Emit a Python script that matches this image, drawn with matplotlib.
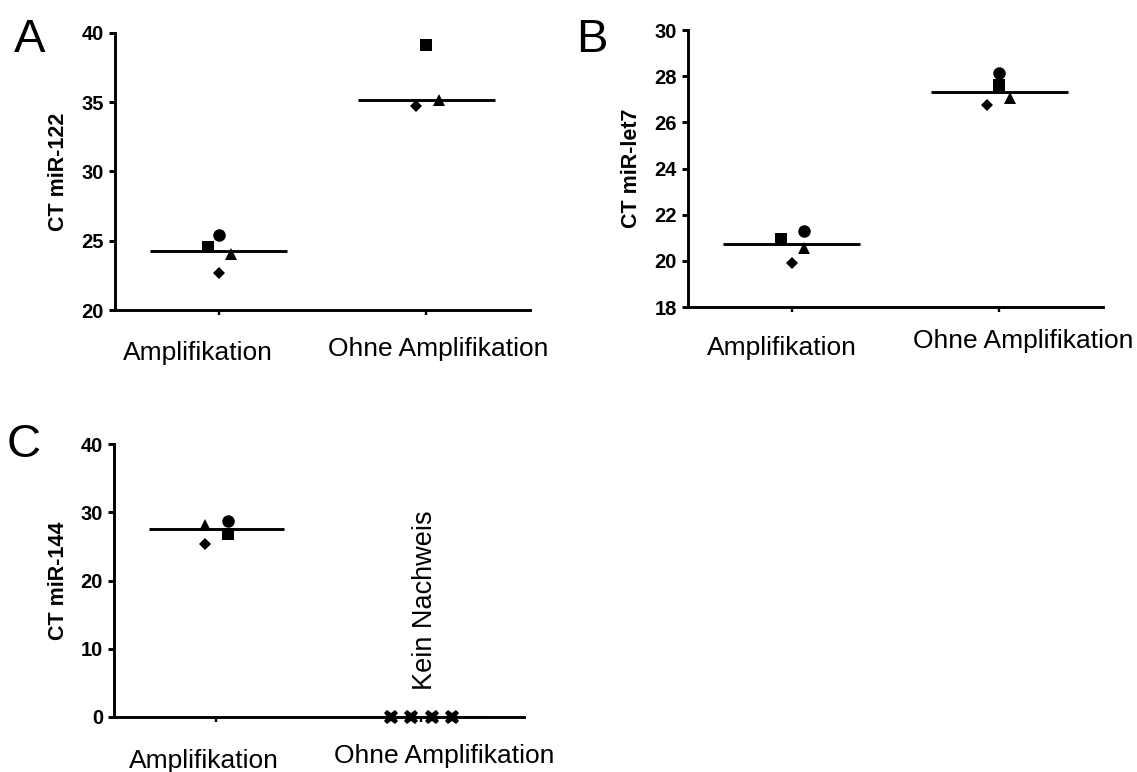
import numpy as np
import matplotlib
matplotlib.use("Agg")
import matplotlib.pyplot as plt

plt.rcParams['font.family'] = ['Liberation Sans', 'DejaVu Sans']

# ── data ─────────────────────────────────────────────────────────────────────
groups = ["Amplifikation", "Ohne Amplifikation"]
samples = ["circle", "square", "triangle", "diamond"]

# CT values per sample (circle, square, triangle, diamond); nan = not measured
mir122_amp = [25.4, 24.55, 24.04, 22.65]
mir122_ohne = [np.nan, 39.13, 35.16, 34.73]

let7_amp = [21.29, 20.93, 20.54, 19.92]
let7_ohne = [28.15, 27.62, 27.04, 26.75]

mir144_amp = [28.76, 26.86, 28.18, 25.35]
mir144_ohne = [0, 0, 0, 0]          # kein Nachweis -> plotted at 0 with x

ylabels = ["CT miR-122", "CT miR-let7", "CT miR-144"]
panel_letters = ["A", "B", "C"]
yticks_a = [20, 25, 30, 35, 40]
yticks_b = [18, 20, 22, 24, 26, 28, 30]
yticks_c = [0, 10, 20, 30, 40]
note_c = "Kein Nachweis"

# ── style / layout ───────────────────────────────────────────────────────────
MARKERS = {"circle": ("o", 9.0), "square": ("s", 8.6),
           "triangle": ("^", 8.4), "diamond": ("D", 6.3)}
LW = 2.1
W, H = 1137, 772

# small horizontal jitter per sample (category units), like the original
jit_a = {0: [0.0, -0.05, 0.06, 0.0], 1: [0.0, 0.0, 0.06, -0.05]}
jit_b = {0: [0.057, -0.053, 0.057, 0.0], 1: [0.0, 0.0, 0.053, -0.057]}
jit_c = {0: [0.054, 0.054, -0.056, -0.056], 1: [-0.15, -0.05, 0.05, 0.15]}

# label offsets (px): (dx, dy below axis) for each group label
lab_a = [(-21, 31), (12, 27)]
lab_b = [(-10, 29), (24, 22)]
lab_c = [(-13, 32), (23, 27)]


def px(box):
    l, t, r, b = box
    return [l / W, 1 - b / H, (r - l) / W, (b - t) / H]


fig = plt.figure(figsize=(W / 100, H / 100), dpi=100)

panels = [
    (px((115, 33, 530, 310)), [mir122_amp, mir122_ohne], yticks_a, jit_a, lab_a, False),
    (px((688, 30, 1103, 307)), [let7_amp, let7_ohne], yticks_b, jit_b, lab_b, False),
    (px((114, 444, 524, 717)), [mir144_amp, mir144_ohne], yticks_c, jit_c, lab_c, True),
]

for k, (rect, data, yt, jit, labs, nd) in enumerate(panels):
    ax = fig.add_axes(rect)
    for g, vals in enumerate(data):
        vals = np.asarray(vals, dtype=float)
        med = np.nanmedian(vals)
        ax.plot([g - 0.33, g + 0.33], [med, med], color="black", lw=LW,
                solid_capstyle="butt", zorder=3)
        for s, name in enumerate(samples):
            if np.isnan(vals[s]):
                continue
            if nd and g == 1:
                m, ms = "X", 10.5
            else:
                m, ms = MARKERS[name]
            ax.plot(g + jit[g][s], vals[s], marker=m, ms=ms, color="black",
                    mec="black", mew=0, ls="none", zorder=4, clip_on=False)

    ax.set_xlim(-0.5, 1.5)
    ax.set_ylim(yt[0], yt[-1])
    ax.set_yticks(yt)
    ax.set_yticklabels([str(v) for v in yt], fontweight="bold", fontsize=14.5)
    ax.set_xticks([0, 1])
    ax.set_xticklabels([])
    ax.tick_params(axis="y", direction="out", length=4, width=LW, pad=4)
    ax.tick_params(axis="x", direction="out", length=3.5, width=1.7)
    for side in ("top", "right"):
        ax.spines[side].set_visible(False)
    for side in ("left", "bottom"):
        ax.spines[side].set_linewidth(LW)
    ax.set_ylabel(ylabels[k], fontsize=15.5, fontweight="bold")
    ax.yaxis.set_label_coords(-0.11, 0.5)

    for g, (dx, dy) in enumerate(labs):
        ax.annotate(groups[g], xy=(g, 0), xycoords=ax.get_xaxis_transform(),
                    xytext=(dx * 0.72, -dy * 0.72), textcoords="offset points",
                    ha="center", va="top", fontsize=19)

    if nd:
        ax.annotate(note_c, xy=(1, 4), xycoords="data", xytext=(2.5, 0),
                    textcoords="offset points", rotation=90,
                    ha="center", va="bottom", fontsize=19.5)

# panel letters
fig.text(14 / W, 1 - 51.5 / H, panel_letters[0], fontsize=34, va="baseline", ha="left")
fig.text(576 / W, 1 - 51.5 / H, panel_letters[1], fontsize=34, va="baseline", ha="left")
fig.text(7 / W, 1 - 457 / H, panel_letters[2], fontsize=34, va="baseline", ha="left")

fig.savefig("out.png", dpi=100)
